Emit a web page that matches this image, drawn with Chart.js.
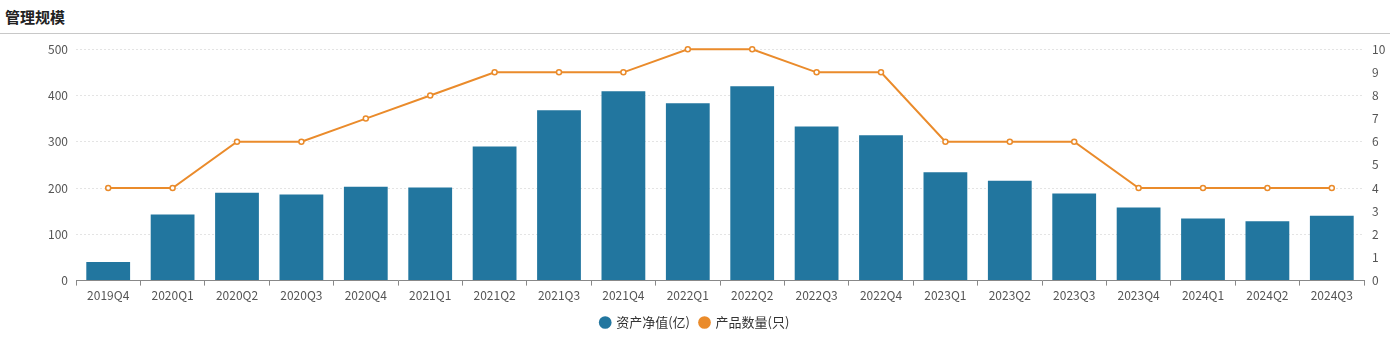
<!DOCTYPE html>
<html>
<head>
<meta charset="utf-8">
<script src="https://cdn.jsdelivr.net/npm/chart.js"></script>
<style>
  body { margin: 0; background: #fff; font-family: "Noto Sans CJK SC", "Noto Sans", sans-serif; }
  .title { height: 34px; border-bottom: 1px solid #c8c8c8; box-sizing: border-box; padding-left: 5px;
           font-size: 15px; font-weight: bold; color: #222; line-height: 34px; }
  .wrap { position: relative; width: 1390px; height: 305px; }
</style>
</head>
<body>
<div class="title">管理规模</div>
<div class="wrap"><canvas id="scaleChart"></canvas></div>
<script>
// 季度
const quarters = ["2019Q4", "2020Q1", "2020Q2", "2020Q3", "2020Q4", "2021Q1", "2021Q2", "2021Q3", "2021Q4", "2022Q1",
  "2022Q2", "2022Q3", "2022Q4", "2023Q1", "2023Q2", "2023Q3", "2023Q4", "2024Q1", "2024Q2", "2024Q3"];
// 资产净值(亿)
const netAssets = [40, 143, 190, 186, 203, 201, 290, 368, 409, 383, 420, 333, 314, 234, 216, 188, 158, 134, 128, 140];
// 产品数量(只)
const productCount = [4, 4, 6, 6, 7, 8, 9, 9, 9, 10, 10, 9, 9, 6, 6, 6, 4, 4, 4, 4];

const barColor = "#22769f";
const lineColor = "#ea8b2b";
const font = "'Noto Sans CJK SC', 'Noto Sans', sans-serif";

const ctx = document.getElementById("scaleChart").getContext("2d");

new Chart(ctx, {
  data: {
    labels: quarters,
    datasets: [
      {
        type: "line",
        label: "产品数量(只)",
        data: productCount,
        yAxisID: "y1",
        borderColor: lineColor,
        backgroundColor: lineColor,
        borderWidth: 2,
        pointRadius: 2.5,
        pointBorderWidth: 1.5,
        pointBackgroundColor: "#fff",
        pointBorderColor: lineColor,
        tension: 0,
        clip: false,
        order: 0,
      },
      {
        type: "bar",
        label: "资产净值(亿)",
        data: netAssets,
        yAxisID: "y",
        backgroundColor: barColor,
        categoryPercentage: 1,
        barPercentage: 0.68,
        order: 1,
      },
    ],
  },
  options: {
    responsive: true,
    maintainAspectRatio: false,
    animation: false,
    layout: { padding: { top: 13, bottom: 0 } },
    plugins: {
      tooltip: { enabled: false },
      legend: {
        position: "bottom",
        labels: {
          font: { family: font, size: 13 },
          color: "#333",
          usePointStyle: true,
          pointStyle: "circle",
          boxWidth: 9,
          boxHeight: 9,
          padding: 10,
          sort: (a, b) => b.datasetIndex - a.datasetIndex,
          generateLabels: (chart) => chart.data.datasets.map((ds, i) => ({
            text: ds.label,
            fillStyle: ds.type === "bar" ? barColor : lineColor,
            strokeStyle: ds.type === "bar" ? barColor : lineColor,
            lineWidth: 0,
            pointStyle: "circle",
            datasetIndex: i,
            fontColor: "#333",
          })),
        },
      },
    },
    scales: {
      x: {
        grid: { offset: true, drawOnChartArea: false, drawTicks: true, tickLength: 5, color: "#888" },
        border: { color: "#888" },
        ticks: { font: { family: font, size: 12 }, color: "#555", padding: 3, maxRotation: 0, autoSkip: false },
      },
      y: {
        position: "left",
        min: 0,
        max: 500,
        ticks: { stepSize: 100, font: { family: font, size: 12 }, color: "#555", padding: 8 },
        grid: { color: "#e4e4e4", drawTicks: false },
        border: { display: false, dash: [2, 2] },
        afterFit: (scale) => { scale.width = 76; },
      },
      y1: {
        position: "right",
        min: 0,
        max: 10,
        ticks: { stepSize: 1, font: { family: font, size: 12 }, color: "#555", padding: 8 },
        grid: { drawOnChartArea: false, drawTicks: false },
        border: { display: false },
        afterFit: (scale) => { scale.width = 26; },
      },
    },
  },
});
</script>
</body>
</html>
